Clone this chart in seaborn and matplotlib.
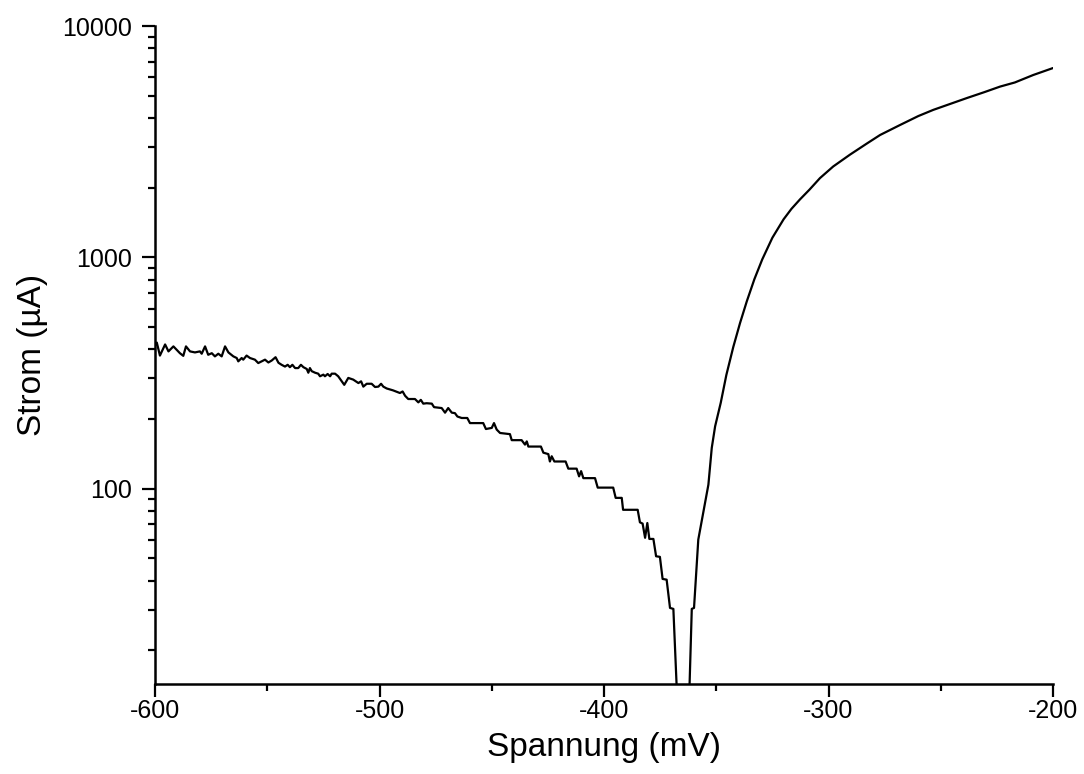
import numpy as np
import pandas as pd
import matplotlib
matplotlib.use("Agg")
import matplotlib.pyplot as plt
from matplotlib.ticker import FixedLocator, FixedFormatter, LogLocator, NullFormatter, MultipleLocator
import seaborn as sns

# Voltage (mV) and current (µA)
voltage_mV = [
    -600.0, -599.2, -597.8, -595.5, -594.0, -591.8, -588.9, -587.4, -586.2, -584.4,
    -582.2, -580.0, -579.2, -577.7, -576.3, -574.7, -573.3, -571.8, -570.3, -568.8,
    -567.3, -565.1, -563.6, -562.9, -561.4, -560.7, -559.2, -557.7, -555.5, -554.0,
    -552.5, -551.0, -549.5, -548.0, -546.3, -545.0, -543.6, -542.1, -540.9, -539.9,
    -538.8, -537.6, -536.2, -535.0, -533.9, -532.4, -531.7, -531.0, -530.2, -528.7,
    -527.3, -526.5, -525.0, -524.3, -523.1, -522.0, -521.3, -519.8, -518.4, -516.8,
    -515.7, -513.9, -511.7, -509.4, -508.2, -507.2, -505.7, -503.5, -502.0, -500.5,
    -499.3, -498.3, -496.8, -494.0, -490.9, -489.7, -488.6, -487.2, -484.2, -482.7,
    -481.6, -480.5, -479.0, -476.7, -475.7, -472.3, -470.8, -469.4, -467.8, -466.4,
    -465.3, -463.4, -460.9, -459.7, -453.8, -452.6, -450.0, -449.0, -447.8, -446.3,
    -444.1, -441.9, -441.1, -436.7, -435.2, -434.4, -433.7, -428.1, -427.0, -424.8,
    -424.1, -423.3, -422.1, -417.1, -415.9, -412.2, -411.1, -410.2, -409.2, -404.0,
    -402.8, -395.9, -394.8, -392.1, -391.5, -385.0, -384.0, -382.8, -381.7, -380.7,
    -379.8, -378.0, -376.8, -375.1, -373.9, -372.1, -370.6, -369.1, -367.5, -365.0,
    -363.5, -362.0, -360.9, -359.9, -358.0, -355.8, -353.5, -352.0, -350.5, -348.0,
    -345.5, -342.4, -339.4, -336.4, -333.0, -329.5, -325.0, -320.0, -316.5, -312.7,
    -308.5, -303.8, -297.9, -290.4, -283.0, -277.0, -268.2, -260.0, -253.3, -245.9,
    -238.4, -230.5, -223.6, -217.0, -208.8, -200.0,
]
current_uA = [
    415, 428, 376, 420, 392, 412, 385, 375, 412, 392,
    388, 392, 383, 412, 379, 385, 373, 383, 373, 412,
    388, 373, 367, 355, 367, 361, 376, 367, 361, 349,
    355, 361, 351, 358, 370, 350, 343, 337, 343, 335,
    343, 332, 332, 343, 335, 329, 317, 332, 322, 317,
    314, 306, 311, 306, 313, 306, 314, 314, 306, 291,
    281, 301, 296, 286, 291, 276, 284, 284, 275, 276,
    284, 276, 271, 266, 259, 263, 252, 244, 244, 236,
    242, 233, 234, 233, 225, 223, 213, 223, 213, 212,
    205, 202, 202, 192, 192, 181, 183, 192, 180, 174,
    173, 172, 162, 162, 155, 160, 152, 152, 143, 141,
    131, 138, 131, 131, 122, 122, 113, 119, 111, 111,
    101, 101, 91.2, 91.2, 81, 81, 71.5, 70.6, 61.3, 71,
    60.6, 60.6, 51, 50.7, 40.7, 40.4, 30.5, 30.2, 13, 0.5,
    0.5, 13, 30.2, 30.5, 60.2, 78.5, 104, 150, 186, 235,
    310, 410, 520, 645, 805, 980, 1215, 1460, 1620, 1780,
    1960, 2200, 2470, 2780, 3100, 3380, 3730, 4080, 4340, 4600,
    4880, 5180, 5470, 5700, 6140, 6580,
]

x_ticks = [-600, -500, -400, -300, -200]
y_ticks = [100, 1000, 10000]
y_tick_labels = ["100", "1000", "10000"]

df = pd.DataFrame({"Spannung": voltage_mV, "Strom": current_uA})

sns.set_style("ticks")
plt.rcParams["font.family"] = ["Liberation Sans", "DejaVu Sans"]

fig = plt.figure(figsize=(10.84, 7.74), dpi=100)
ax = fig.add_axes([155 / 1084, 1 - 684 / 774, (1053 - 155) / 1084, (684 - 26) / 774])

sns.lineplot(data=df, x="Spannung", y="Strom", ax=ax, color="black",
             linewidth=1.6, estimator=None, sort=False)

ax.set_yscale("log")
ax.set_xlim(-600, -200)
ax.set_ylim(14.3, 10000)

ax.xaxis.set_major_locator(FixedLocator(x_ticks))
ax.xaxis.set_minor_locator(MultipleLocator(50))
ax.set_xticklabels([str(t) for t in x_ticks])

ax.yaxis.set_major_locator(FixedLocator(y_ticks))
ax.yaxis.set_major_formatter(FixedFormatter(y_tick_labels))
ax.yaxis.set_minor_locator(LogLocator(base=10, subs=np.arange(2, 10)))
ax.yaxis.set_minor_formatter(NullFormatter())

for side in ["top", "right"]:
    ax.spines[side].set_visible(False)
for side in ["left", "bottom"]:
    ax.spines[side].set_linewidth(1.8)
    ax.spines[side].set_color("black")

ax.tick_params(axis="both", which="major", length=9.5, width=1.6, color="black",
               labelsize=18, labelcolor="black")
ax.tick_params(axis="both", which="minor", length=5, width=1.6, color="black")
ax.tick_params(axis="x", which="major", pad=1)
ax.tick_params(axis="y", which="major", pad=7)

ax.set_xlabel("Spannung (mV)", fontsize=24, labelpad=7, color="black")
ax.set_ylabel("Strom (µA)", fontsize=24, labelpad=10, color="black")
ax.grid(False)

fig.savefig("out.png", dpi=100)
